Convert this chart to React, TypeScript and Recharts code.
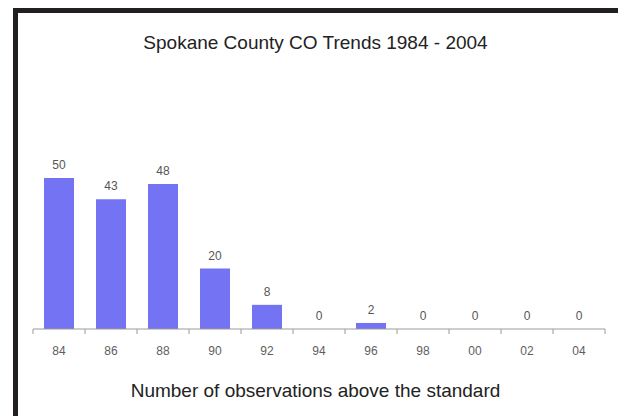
import { Bar, ComposedChart, LabelList, Line, XAxis, YAxis } from "recharts";

// CO exceedance counts, Spokane County, every other year 1984-2004
const years = ["84", "86", "88", "90", "92", "94", "96", "98", "00", "02", "04"];
const exceedances = [50, 43, 48, 20, 8, 0, 2, 0, 0, 0, 0];
const yDomain: [number, number] = [0, 100];

const data = years.map((year, i) => ({ year, count: exceedances[i] }));

const WIDTH = 618;
const HEIGHT = 416;
const AXIS_HEIGHT = 30;
const margin = { top: 27, right: 13, bottom: 57, left: 33 };
const plotBottom = HEIGHT - margin.bottom - AXIS_HEIGHT;
const band = (WIDTH - margin.left - margin.right) / years.length;

const FONT = "'Liberation Sans', Arial, sans-serif";

// Category ticks sit on the band edges, labels stay centred under the bars
function YearTick({ x, payload, index }: any) {
  const half = band / 2;
  return (
    <g>
      {index === 0 && (
        <line x1={x - half} x2={x - half} y1={plotBottom} y2={plotBottom + 5} stroke="#9a9a9a" />
      )}
      <line x1={x + half} x2={x + half} y1={plotBottom} y2={plotBottom + 5} stroke="#9a9a9a" />
      <text x={x} y={plotBottom + 26} textAnchor="middle" fill="#5e5e5e" fontSize={12} fontFamily={FONT}>
        {payload.value}
      </text>
    </g>
  );
}

export default function App() {
  return (
    <div
      style={{
        position: "absolute",
        left: 0,
        top: 0,
        width: WIDTH,
        height: HEIGHT,
        overflow: "hidden",
        background: "#fff",
        fontFamily: FONT
      }}
    >
      <div
        style={{
          position: "absolute",
          left: 13,
          top: 8,
          width: 620,
          height: 430,
          boxSizing: "border-box",
          border: "5px solid #231f20"
        }}
      />
      <div style={{ position: "absolute", left: 0, top: 0 }}>
        <ComposedChart data={data} height={HEIGHT} margin={margin} width={WIDTH}>
          <YAxis axisLine={{ stroke: "#9a9a9a" }} domain={yDomain} tick={false} tickLine={false} width={0} />
          <XAxis
            axisLine={{ stroke: "#9a9a9a" }}
            dataKey="year"
            height={AXIS_HEIGHT}
            interval={0}
            tick={<YearTick />}
            tickLine={false}
          />
          <Bar barSize={30} dataKey="count" fill="#7373f4" isAnimationActive={false} />
          {/* invisible line carries the value labels so the zero years get one too */}
          <Line
            activeDot={false}
            dataKey="count"
            dot={false}
            isAnimationActive={false}
            stroke="none"
          >
            <LabelList
              dataKey="count"
              fill="#555"
              fontFamily={FONT}
              fontSize={12}
              formatter={(v: any) => String(v)}
              offset={9}
              position="top"
            />
          </Line>
        </ComposedChart>
      </div>
      <div
        style={{
          position: "absolute",
          left: 18,
          width: 595,
          top: 33,
          fontSize: 19,
          lineHeight: "19px",
          textAlign: "center",
          color: "#222"
        }}
      >
        Spokane County CO Trends 1984 - 2004
      </div>
      <div
        style={{
          position: "absolute",
          left: 18,
          width: 595,
          top: 381,
          fontSize: 19,
          lineHeight: "19px",
          textAlign: "center",
          color: "#222"
        }}
      >
        Number of observations above the standard
      </div>
    </div>
  );
}
